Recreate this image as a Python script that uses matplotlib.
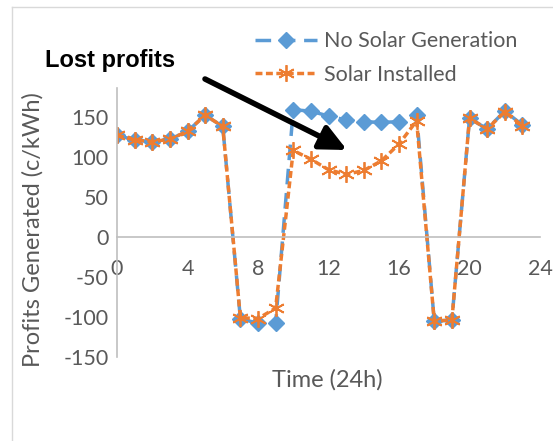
import matplotlib
matplotlib.use('Agg')
import matplotlib.pyplot as plt
from matplotlib.lines import Line2D

hours = list(range(24))
no_solar = [127, 121, 119, 122, 132, 152, 138, -102, -108, -108, 159, 157, 151, 146, 144, 143, 144, 152,
            -105, -104, 148, 135, 157, 140]
solar = [127, 121, 119, 122, 132, 152, 138, -101, -102, -89, 108, 97, 84, 78, 83, 95, 116, 145,
         -105, -104, 148, 135, 156, 139]
x_ticks = [0, 4, 8, 12, 16, 20, 24]
y_ticks = [-150, -100, -50, 0, 50, 100, 150]

blue = '#5B9BD5'
orange = '#ED7D31'
grey = '#595959'
plt.rcParams['font.family'] = ['Lato', 'DejaVu Sans']
plt.rcParams['axes.unicode_minus'] = False

fig = plt.figure(figsize=(5.53, 4.41), dpi=100)
ax = fig.add_axes([117 / 553, 1 - 357 / 441, 423 / 553, 269 / 441])

ax.plot(hours, no_solar, color=blue, lw=2.5, ls=(0, (4.5, 2.5)), marker='D', ms=8,
        mfc=blue, mec=blue, label='No Solar Generation')
ax.plot(hours, solar, color=orange, lw=2.5, ls=(0, (2, 1)), marker=(6, 2, 0), ms=12,
        mfc=orange, mec=orange, mew=1.3, label='Solar Installed')

ax.set_xlim(0, 24)
ax.set_ylim(-150, 186)
ax.set_xticks(x_ticks)
ax.set_yticks(y_ticks)
ax.tick_params(length=0, labelsize=15.5, colors=grey)
ax.tick_params(axis='x', pad=16)
ax.tick_params(axis='y', pad=6)

for s in ['top', 'right']:
    ax.spines[s].set_visible(False)
ax.spines['bottom'].set_position(('data', 0))
ax.spines['bottom'].set_color('#bfbfbf')
ax.spines['left'].set_color('#bfbfbf')
ax.spines['bottom'].set_linewidth(1.2)
ax.spines['left'].set_linewidth(1.2)

fig.text(33 / 553, 1 - 230 / 441, 'Profits Generated (c/kWh)', fontsize=17, color=grey,
         ha='center', va='center', rotation=90)
fig.text(327 / 553, 1 - 380 / 441, 'Time (24h)', fontsize=17, color=grey, ha='center', va='center')

handles = [
    Line2D([], [], color=blue, lw=2.5, ls=(0, (4.5, 2.5)), marker='D', ms=8),
    Line2D([], [], color=orange, lw=2.5, ls=(0, (2, 1)), marker=(6, 2, 0), ms=12, mew=1.3),
]
fig.legend(handles, ['No Solar Generation', 'Solar Installed'], loc='center left',
           bbox_to_anchor=(244 / 553, 1 - 58 / 441), frameon=False, fontsize=15.5,
           handlelength=2.9, handletextpad=0.3, labelspacing=0.62, labelcolor=grey,
           borderpad=0)

fig.text(45 / 553, 1 - 60 / 441, 'Lost profits', fontsize=17, fontweight='bold',
         family='Liberation Sans', ha='left', va='center', color='black')
fig.add_artist(matplotlib.patches.FancyArrowPatch(
    (205 / 553, 1 - 79 / 441), (347 / 553, 1 - 150 / 441), transform=fig.transFigure,
    arrowstyle='-|>,head_length=8,head_width=3.8', lw=4, color='black',
    mutation_scale=2.0, shrinkA=0, shrinkB=0))

# chart border (top and left edges visible)
fig.add_artist(Line2D([12 / 553, 12 / 553], [0, 1 - 7 / 441], transform=fig.transFigure,
                      color='#d9d9d9', lw=1))
fig.add_artist(Line2D([12 / 553, 1], [1 - 7 / 441, 1 - 7 / 441], transform=fig.transFigure,
                      color='#d9d9d9', lw=1))

fig.savefig('out.png', dpi=100, facecolor='white')
